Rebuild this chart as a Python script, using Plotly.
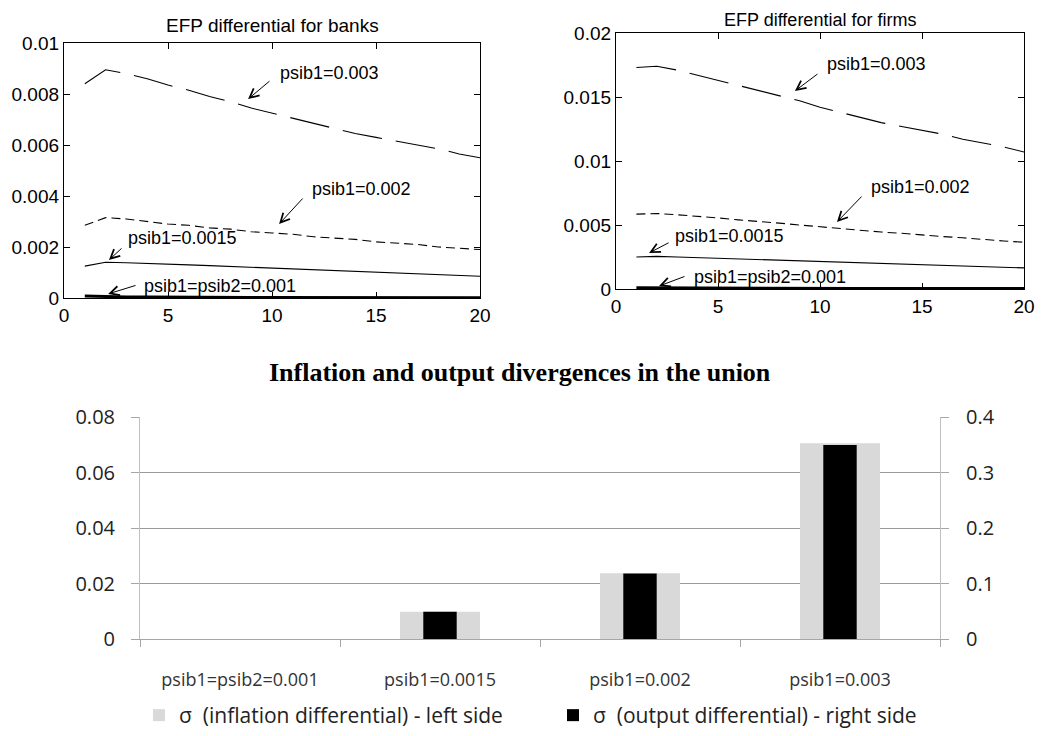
import plotly.graph_objects as go

# ---------------- data ----------------
periods = list(range(1, 21))

banks_psib1_0003 = [0.0084, 0.00895, 0.0088, 0.0086, 0.00835, 0.00815, 0.0079, 0.0077, 0.00745, 0.00725,
                    0.00705, 0.00685, 0.00665, 0.00645, 0.0063, 0.00615, 0.006, 0.00585, 0.00565, 0.0055]
banks_psib1_0002 = [0.00285, 0.00315, 0.0031, 0.003, 0.0029, 0.00285, 0.00275, 0.0027, 0.0026, 0.00255,
                    0.0025, 0.0024, 0.00235, 0.0023, 0.0022, 0.00215, 0.0021, 0.002, 0.00195, 0.0019]
banks_psib1_00015 = [0.00125, 0.0014, 0.00138, 0.00136, 0.00133, 0.0013, 0.00127, 0.00124, 0.00121, 0.00118,
                     0.00115, 0.00112, 0.00109, 0.00106, 0.00103, 0.001, 0.00097, 0.00093, 0.00089, 0.00085]
banks_psib_0001 = [0.00008, 0.00005, 0.00004, 0.00004, 0.00003, 0.00003, 0.00003, 0.00003, 0.00002, 0.00002,
                   0.00002, 0.00002, 0.00002, 0.00002, 0.00002, 0.00001, 0.00001, 0.00001, 0.00001, 0.00001]

firms_psib1_0003 = [0.0173, 0.0174, 0.0171, 0.0167, 0.0163, 0.0159, 0.0155, 0.0151, 0.0147, 0.0142,
                    0.0138, 0.0134, 0.0130, 0.0127, 0.0124, 0.0121, 0.0117, 0.0114, 0.0111, 0.0107]
firms_psib1_0002 = [0.00585, 0.0059, 0.0058, 0.0057, 0.00555, 0.0054, 0.0053, 0.00515, 0.005, 0.00485,
                    0.0047, 0.0046, 0.00445, 0.00435, 0.0042, 0.0041, 0.004, 0.00385, 0.00375, 0.00365]
firms_psib1_00015 = [0.0025, 0.00255, 0.0025, 0.00245, 0.0024, 0.00235, 0.0023, 0.00225, 0.0022, 0.00215,
                     0.0021, 0.00205, 0.002, 0.00195, 0.0019, 0.00187, 0.00183, 0.00177, 0.0017, 0.00165]
firms_psib_0001 = [0.0001, 0.00009, 0.00008, 0.00007, 0.00007, 0.00006, 0.00006, 0.00005, 0.00005, 0.00005,
                   0.00004, 0.00004, 0.00004, 0.00004, 0.00003, 0.00003, 0.00003, 0.00003, 0.00003, 0.00003]

bar_categories = ["psib1=psib2=0.001", "psib1=0.0015", "psib1=0.002", "psib1=0.003"]
sigma_inflation = [0.0, 0.0098, 0.0237, 0.0705]
sigma_output = [0.0, 0.049, 0.118, 0.3495]

# ---------------- figure ----------------
# the page body adds an 8px offset, so the figure is 8px smaller and shifted
OFF = 8
W, H = 1050 - OFF, 736 - OFF
def px(x):
    return (x - OFF) / W
def py(y):
    return 1 - (y - OFF) / H

fig = go.Figure()

line_specs = [
    ("psib1=0.003", "40px,14px", 1.1),
    ("psib1=0.002", "9px,5px", 1.1),
    ("psib1=0.0015", "solid", 1.1),
    ("psib1=psib2=0.001", "solid", 3),
]
banks = [banks_psib1_0003, banks_psib1_0002, banks_psib1_00015, banks_psib_0001]
firms = [firms_psib1_0003, firms_psib1_0002, firms_psib1_00015, firms_psib_0001]

for (name, dash, w), ys in zip(line_specs, banks):
    fig.add_trace(go.Scatter(x=periods, y=ys, mode="lines", name=name, showlegend=False,
                             line=dict(color="black", width=w, dash=dash),
                             xaxis="x", yaxis="y"))
for (name, dash, w), ys in zip(line_specs, firms):
    fig.add_trace(go.Scatter(x=periods, y=ys, mode="lines", name=name, showlegend=False,
                             line=dict(color="black", width=w, dash=dash),
                             xaxis="x2", yaxis="y2"))

fig.add_trace(go.Bar(x=bar_categories, y=sigma_inflation, width=0.4,
                     name="σ  (inflation differential) - left side",
                     marker=dict(color="#d9d9d9", line=dict(width=0)),
                     xaxis="x3", yaxis="y3"))
fig.add_trace(go.Bar(x=bar_categories, y=sigma_output, width=0.167,
                     name="σ  (output differential) - right side",
                     marker=dict(color="black", line=dict(width=0)),
                     xaxis="x3", yaxis="y4"))

mat_font = dict(family="Liberation Sans, Arial", size=19, color="black")
mat_axis = dict(showline=True, linecolor="black", linewidth=1.3, mirror="ticks",
                ticks="inside", ticklen=6, tickcolor="black", tickwidth=1,
                showgrid=False, zeroline=False, tickfont=mat_font, automargin=False)

xl_font = dict(family="Open Sans", size=20, color="#222222")

fig.update_layout(
    template="none",
    width=W, height=H,
    margin=dict(l=0, r=0, t=0, b=0),
    paper_bgcolor="white", plot_bgcolor="white",
    barmode="overlay",
    xaxis=dict(domain=[px(64), px(480)], range=[0, 20], dtick=5, anchor="y", **mat_axis),
    yaxis=dict(domain=[py(298), py(43)], range=[0, 0.01], dtick=0.002, anchor="x", **mat_axis),
    xaxis2=dict(domain=[px(616), px(1024)], range=[0, 20], dtick=5, anchor="y2", **mat_axis),
    yaxis2=dict(domain=[py(289), py(33)], range=[0, 0.02], dtick=0.005, anchor="x2", **mat_axis),
    xaxis3=dict(domain=[px(140), px(940)], anchor="y3", type="category",
                showline=True, linecolor="#a6a6a6", linewidth=1,
                ticks="outside", tickson="boundaries", ticklen=7, tickcolor="#a6a6a6",
                ticklabelstandoff=24, automargin=False,
                tickfont=dict(family="Open Sans", size=18, color="#333333"),
                showgrid=False, zeroline=False),
    yaxis3=dict(domain=[py(639), py(417)], anchor="x3", range=[0, 0.08], dtick=0.02,
                showline=True, linecolor="#bfbfbf", linewidth=1,
                ticks="outside", ticklen=8, tickcolor="#a6a6a6",
                showgrid=True, gridcolor="#9a9a9a", gridwidth=1, zeroline=False,
                ticklabelstandoff=12, tickfont=xl_font, automargin=False),
    yaxis4=dict(domain=[py(639), py(417)], anchor="x3", overlaying="y3", side="right",
                range=[0, 0.4], dtick=0.1,
                showline=True, linecolor="#bfbfbf", linewidth=1,
                ticks="outside", ticklen=8, tickcolor="#a6a6a6",
                showgrid=False, zeroline=False,
                ticklabelstandoff=13, tickfont=xl_font, automargin=False),
    legend=dict(orientation="h", x=px(553), xanchor="center", y=0, yanchor="bottom",
                font=dict(family="Open Sans", size=21, color="#222222"),
                bgcolor="rgba(0,0,0,0)", entrywidth=369, entrywidthmode="pixels"),
)

# titles
fig.add_annotation(text="EFP differential for banks", x=px(272), y=py(25), xref="paper", yref="paper",
                   xanchor="center", yanchor="middle",
                   showarrow=False, font=dict(family="Liberation Sans, Arial", size=19, color="black"))
fig.add_annotation(text="EFP differential for firms", x=px(820), y=py(8.5), xref="paper", yref="paper",
                   xanchor="center", yanchor="top", borderpad=0,
                   showarrow=False, font=dict(family="Liberation Sans, Arial", size=18, color="black"))
fig.add_annotation(text="<b>Inflation and output divergences in the union</b>", x=px(520), y=py(372),
                   xref="paper", yref="paper", xanchor="center", yanchor="middle", showarrow=False,
                   font=dict(family="Liberation Serif, Times New Roman", size=26, color="black"))

# line labels with arrows: (label, text_x, text_y, tail_x, tail_y, head_x, head_y)
banks_labels = [
    ("psib1=0.003", 10.29, 0.00882, 9.95, 0.00855, 8.85, 0.0078),
    ("psib1=0.002", 11.83, 0.00427, 11.54, 0.00396, 10.34, 0.0029),
    ("psib1=0.0015", 2.98, 0.00235, 2.84, 0.0020, 2.16, 0.00149),
    ("psib1=psib2=0.001", 3.75, 0.00047, 3.51, 0.00051, 2.12, 0.00016),
]
firms_labels = [
    ("psib1=0.003", 10.25, 0.01758, 9.95, 0.01688, 8.77, 0.01547),
    ("psib1=0.002", 12.4, 0.00797, 12.11, 0.00734, 10.83, 0.00523),
    ("psib1=0.0015", 2.79, 0.00414, 2.65, 0.00367, 1.62, 0.00281),
    ("psib1=psib2=0.001", 3.73, 0.00094, 3.43, 0.00102, 2.11, 0.00023),
]
lab_font = dict(family="Liberation Sans, Arial", size=18, color="black")
for labels, xr, yr in [(banks_labels, "x", "y"), (firms_labels, "x2", "y2")]:
    for text, tx, ty, ax_, ay_, hx, hy in labels:
        fig.add_annotation(text=text, x=tx, y=ty, xref=xr, yref=yr, xanchor="left", yanchor="middle",
                           showarrow=False, font=lab_font)
        fig.add_annotation(text="", x=hx, y=hy, xref=xr, yref=yr, ax=ax_, ay=ay_, axref=xr, ayref=yr,
                           showarrow=True, arrowhead=5, arrowsize=1.8, arrowwidth=1, arrowcolor="black")

fig.write_html("out.html")
